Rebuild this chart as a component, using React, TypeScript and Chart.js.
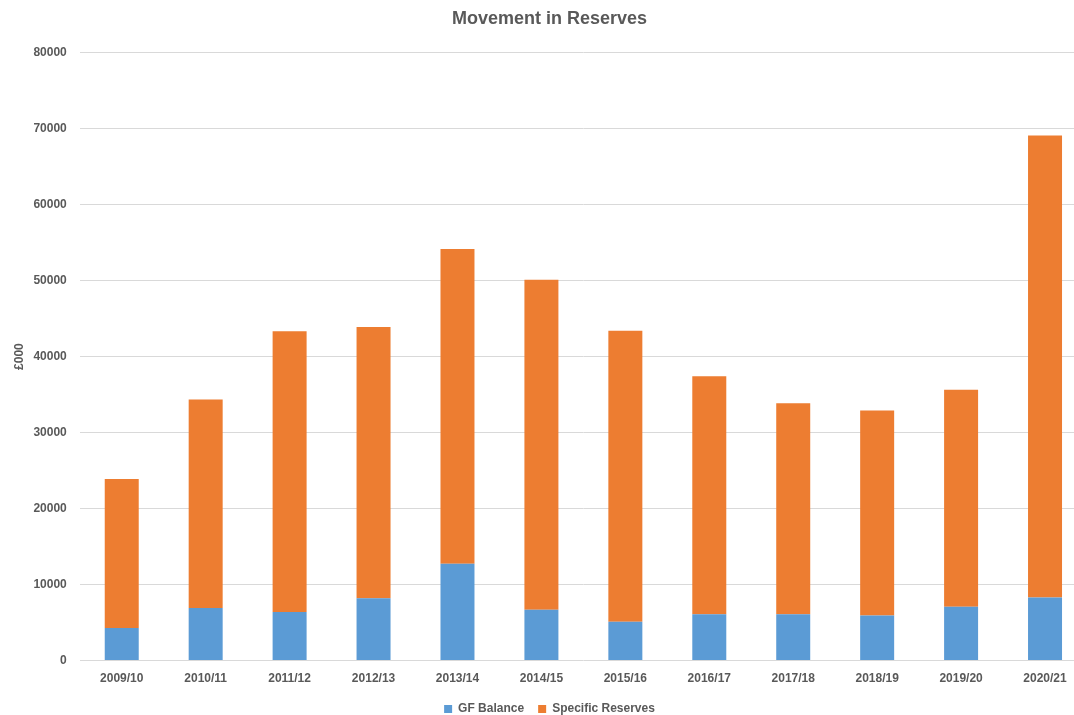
import { useEffect, useRef } from "react";
import { Chart, registerables } from "chart.js";

Chart.register(...registerables);

// Financial years shown on the category axis
const years = [
  "2009/10", "2010/11", "2011/12", "2012/13", "2013/14", "2014/15",
  "2015/16", "2016/17", "2017/18", "2018/19", "2019/20", "2020/21",
];

// General Fund balance, £000
const gfBalance = [4300, 6930, 6400, 8200, 12750, 6700, 5100, 6100, 6100, 5950, 7100, 8300];

// Specific (earmarked) reserves, £000
const specificReserves = [19600, 27420, 36950, 35700, 41400, 43400, 38300, 31300, 27750, 26950, 28550, 60800];

const yMin = 0;
const yMax = 80000;
const yStep = 10000;

const FONT = "'Liberation Sans', Arial, sans-serif";
const TEXT = "#595959";

export default function App() {
  const canvasRef = useRef<HTMLCanvasElement>(null);

  useEffect(() => {
    document.body.style.margin = "0";
    const canvas = canvasRef.current;
    if (!canvas) return;
    const chart = new Chart(canvas, {
      type: "bar",
      data: {
        labels: years,
        datasets: [
          {
            label: "GF Balance",
            data: gfBalance,
            backgroundColor: "#5B9BD5",
            borderWidth: 0,
          },
          {
            label: "Specific Reserves",
            data: specificReserves,
            backgroundColor: "#ED7D31",
            borderWidth: 0,
          },
        ],
      },
      options: {
        responsive: false,
        animation: false,
        layout: { padding: { left: 12, right: 7, top: 0, bottom: -10 } },
        datasets: {
          bar: { barPercentage: 0.405, categoryPercentage: 1 },
        },
        plugins: {
          title: {
            display: true,
            text: "Movement in Reserves",
            color: TEXT,
            font: { family: FONT, size: 18, weight: "bold" },
            padding: { top: 8, bottom: 23 },
          },
          legend: {
            position: "bottom",
            labels: {
              color: TEXT,
              font: { family: FONT, size: 12, weight: "bold" },
              boxWidth: 8,
              boxHeight: 8,
              padding: 14,
            },
          },
          tooltip: { enabled: false },
        },
        scales: {
          x: {
            stacked: true,
            grid: { display: false },
            border: { display: false },
            ticks: {
              color: TEXT,
              font: { family: FONT, size: 12, weight: "bold" },
              padding: 3,
              maxRotation: 0,
            },
          },
          y: {
            stacked: true,
            min: yMin,
            max: yMax,
            grid: { color: "#d9d9d9", drawTicks: false },
            border: { display: false },
            ticks: {
              stepSize: yStep,
              color: TEXT,
              font: { family: FONT, size: 12, weight: "bold" },
              padding: 13,
              callback: (value: any) => String(value),
            },
            title: {
              display: true,
              text: "£000",
              color: TEXT,
              font: { family: FONT, size: 12, weight: "bold" },
              padding: { top: 0, bottom: -6 },
            },
          },
        },
      },
    });
    return () => chart.destroy();
  }, []);

  return (
    <div style={{ width: 1074, height: 715, overflow: "hidden", position: "relative" }}>
      <canvas ref={canvasRef} width={1094} height={715} style={{ display: "block" }} />
    </div>
  );
}
